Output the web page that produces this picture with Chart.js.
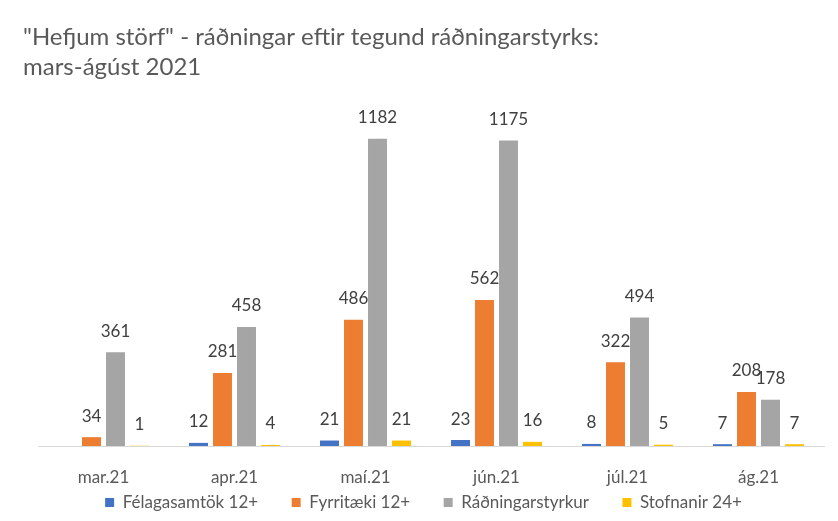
<!DOCTYPE html>
<html>
<head>
<meta charset="utf-8">
<script src="https://cdn.jsdelivr.net/npm/chart.js"></script>
<style>
  html, body { margin: 0; padding: 0; background: #fff; }
</style>
</head>
<body>
<canvas id="myChart" width="838" height="521"></canvas>
<script>
var months = ["mar.21", "apr.21", "maí.21", "jún.21", "júl.21", "ág.21"];
var felagasamtok = [null, 12, 21, 23, 8, 7];
var fyrirtaeki = [34, 281, 486, 562, 322, 208];
var radningarstyrkur = [361, 458, 1182, 1175, 494, 178];
var stofnanir = [1, 4, 21, 16, 5, 7];

// draws the value above each bar
var valueLabels = {
    id: 'valueLabels',
    afterDatasetsDraw: function (chart) {
        var ctx = chart.ctx;
        ctx.save();
        ctx.font = '17px Lato';
        ctx.fillStyle = '#404040';
        ctx.textAlign = 'center';
        ctx.textBaseline = 'middle';
        chart.data.datasets.forEach(function (ds, i) {
            chart.getDatasetMeta(i).data.forEach(function (bar, j) {
                if (ds.data[j] == null) return;
                ctx.fillText(ds.data[j], bar.x, bar.y - 21);
            });
        });
        ctx.restore();
    }
};

var ctx = document.getElementById('myChart').getContext('2d');
var chart = new Chart(ctx, {
    type: 'bar',
    data: {
        labels: months,
        datasets: [
            { label: 'Félagasamtök 12+', backgroundColor: '#4472C4', data: felagasamtok },
            { label: 'Fyrritæki 12+', backgroundColor: '#ED7D31', data: fyrirtaeki },
            { label: 'Ráðningarstyrkur', backgroundColor: '#A5A5A5', data: radningarstyrkur },
            { label: 'Stofnanir 24+', backgroundColor: '#FFC000', data: stofnanir }
        ]
    },
    options: {
        responsive: false,
        animation: false,
        layout: { padding: { left: 23, right: 14, top: 0, bottom: 0 } },
        datasets: { bar: { categoryPercentage: 0.733, barPercentage: 0.79 } },
        plugins: {
            title: {
                display: true,
                align: 'start',
                text: ['"Hefjum störf" - ráðningar eftir tegund ráðningarstyrks:', 'mars-ágúst 2021'],
                color: '#595959',
                font: { family: 'Lato', size: 24, weight: 'normal', lineHeight: 1.25 },
                padding: { top: 22, bottom: 26 }
            },
            legend: {
                position: 'bottom',
                labels: {
                    color: '#595959',
                    font: { family: 'Lato', size: 17 },
                    boxWidth: 9,
                    boxHeight: 9,
                    padding: 8,
                    generateLabels: function (chart) {
                        var items = Chart.defaults.plugins.legend.labels.generateLabels(chart);
                        items.forEach(function (it, i) {
                            if (i < items.length - 1) it.text = it.text + '\u2002\u2002\u2002';
                        });
                        return items;
                    }
                }
            },
            tooltip: { enabled: false }
        },
        scales: {
            x: {
                grid: { display: false, drawTicks: false },
                border: { color: '#D9D9D9' },
                ticks: { color: '#595959', font: { family: 'Lato', size: 17 }, padding: 21 },
                afterFit: function (scale) { scale.height = 40; }
            },
            y: {
                min: 0,
                max: 1300,
                grid: { display: false, drawTicks: false },
                border: { display: false },
                ticks: { display: false },
                afterFit: function (scale) { scale.width = 15; }
            }
        }
    },
    plugins: [valueLabels]
});
</script>
</body>
</html>
